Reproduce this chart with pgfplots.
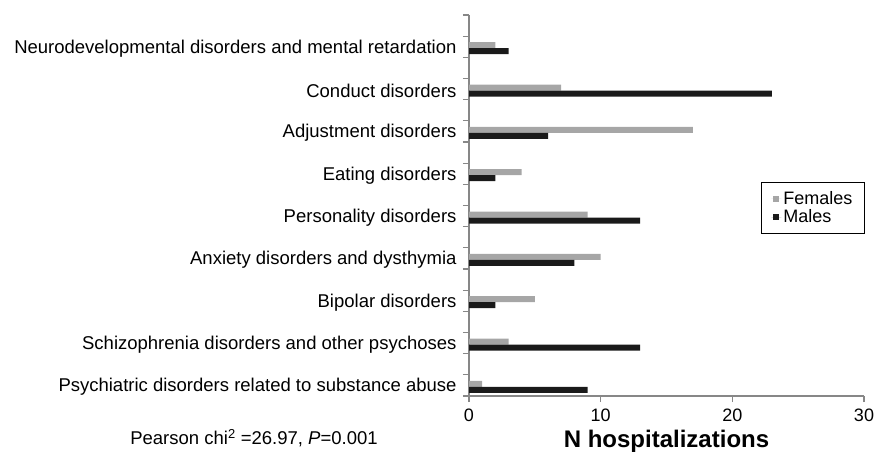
\documentclass[border=0pt]{standalone}
\usepackage{pgfplots}
\pgfplotsset{compat=1.18}
\usepackage{fontspec}
\setmainfont{Liberation Sans}
\definecolor{fem}{HTML}{A6A6A6}
\definecolor{mal}{HTML}{1A1A1A}
\definecolor{axgray}{HTML}{878787}
\begin{document}
\begin{tikzpicture}[x=1pt,y=1pt]
\useasboundingbox (0,0) rectangle (875,451);
\begin{axis}[
  at={(469pt,55pt)}, anchor=south west,
  scale only axis, width=395pt, height=381pt,
  xmin=0, xmax=30, ymin=-0.215, ymax=8.785,
  enlargelimits=false,
  axis x line*=bottom, axis y line*=left,
  axis line style={-, draw=axgray, line width=1.6pt},
  tick align=outside,
  xtick={0,10,20,30},
  ytick={0,1,2,3,4,5,6,7,8},
  yticklabels={Psychiatric disorders related to substance abuse,
    Schizophrenia disorders and other psychoses,
    Bipolar disorders,
    Anxiety disorders and dysthymia,
    Personality disorders,
    Eating disorders,
    Adjustment disorders,
    Conduct disorders,
    Neurodevelopmental disorders and mental retardation},
  minor ytick={-0.215,0.285,0.785,1.285,1.785,2.285,2.785,3.285,3.785,4.285,4.785,5.285,5.785,6.285,6.785,7.285,7.785,8.285,8.785},
  major tick length=6pt, minor tick length=6pt,
  major x tick style={draw=axgray, line width=1.3pt},
  major y tick style={draw=none},
  minor y tick style={draw=axgray, line width=1.3pt},
  /pgf/number format/assume math mode=true,
  yticklabel style={font=\fontsize{18.5}{20}\selectfont, align=right, xshift=-3pt},
  xticklabel style={font=\fontsize{18}{20}\selectfont, yshift=-3pt},
  xlabel={N hospitalizations},
  xlabel style={font=\bfseries\fontsize{24}{26}\selectfont, at={(axis description cs:0.5,0)}, anchor=center, yshift=-45pt},
  legend style={at={(rel axis cs:0.739,0.562)}, anchor=north west, draw=black, line width=1pt,
    font=\fontsize{18}{21}\selectfont, inner xsep=10pt, inner ysep=7pt, row sep=0pt,
    nodes={inner sep=2pt}},
  legend cell align=left,
  legend image code/.code={\path (0pt,0pt) -- (10pt,0pt); \fill[#1,draw=none] (2pt,-3pt) rectangle (8pt,3pt);},
]
\addplot[xbar, bar width=6pt, bar shift=3pt, fill=fem, draw=none] coordinates {
  (1,0) (3,1) (5,2) (10,3) (9,4) (4,5) (17,6) (7,7) (2,8)};
\addlegendentry{Females}
\addplot[xbar, bar width=6pt, bar shift=-3pt, fill=mal, draw=none] coordinates {
  (9,0) (13,1) (2,2) (8,3) (13,4) (2,5) (6,6) (23,7) (3,8)};
\addlegendentry{Males}
\end{axis}
\node[font=\fontsize{18.5}{20}\selectfont, anchor=center] at (254,13) {Pearson chi\textsuperscript{2} =26.97, \textit{P}=0.001};
\end{tikzpicture}
\end{document}
